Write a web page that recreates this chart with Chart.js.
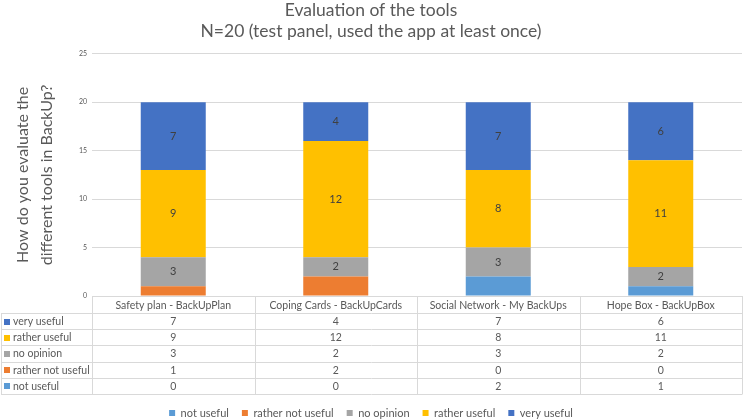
<!DOCTYPE html>
<html>
<head>
<meta charset="utf-8">
<script src="https://cdn.jsdelivr.net/npm/chart.js@4"></script>
<style>
  body { margin: 0; background: #fff; }
</style>
</head>
<body>
<canvas id="myChart" width="745" height="419"></canvas>
<script>
// data
const tools = ['Safety plan - BackUpPlan', 'Coping Cards - BackUpCards', 'Social Network - My BackUps', 'Hope Box - BackUpBox'];
const notUseful = [0, 0, 2, 1];
const ratherNotUseful = [1, 2, 0, 0];
const noOpinion = [3, 2, 3, 2];
const ratherUseful = [9, 12, 8, 11];
const veryUseful = [7, 4, 7, 6];
const yMax = 25;
const yStep = 5;

const grey = '#595959';
const fontName = 'Lato, "Open Sans", sans-serif';

// only these get a value written inside the bar
const labelled = ['no opinion', 'rather useful', 'very useful'];

const barLabels = {
  id: 'barLabels',
  afterDatasetsDraw(chart) {
    const ctx = chart.ctx;
    ctx.save();
    ctx.font = '11px ' + fontName;
    ctx.fillStyle = '#404040';
    ctx.textAlign = 'center';
    ctx.textBaseline = 'middle';
    chart.data.datasets.forEach((ds, i) => {
      if (labelled.indexOf(ds.label) < 0) return;
      chart.getDatasetMeta(i).data.forEach((bar, j) => {
        if (!ds.data[j]) return;
        ctx.fillText(ds.data[j], bar.x, (bar.y + bar.base) / 2);
      });
    });
    ctx.restore();
  }
};

// data table under the plot
const dataTable = {
  id: 'dataTable',
  afterDraw(chart) {
    const ctx = chart.ctx;
    const x = chart.scales.x;
    const top = chart.chartArea.bottom;
    const n = tools.length;
    const colW = (x.right - x.left) / n;
    const headH = 17;
    const rowH = 16.2;
    const rows = chart.data.datasets.slice().reverse();
    const bottom = top + headH + rowH * rows.length;

    ctx.save();
    ctx.strokeStyle = '#d9d9d9';
    ctx.lineWidth = 1;
    ctx.beginPath();
    ctx.moveTo(x.left, top + 0.5);
    ctx.lineTo(x.right, top + 0.5);
    for (let r = 0; r <= rows.length; r++) {
      const yy = Math.round(top + headH + r * rowH) + 0.5;
      ctx.moveTo(1, yy);
      ctx.lineTo(x.right, yy);
    }
    ctx.moveTo(1.5, top + headH);
    ctx.lineTo(1.5, Math.round(bottom) + 0.5);
    for (let c = 0; c <= n; c++) {
      const xx = Math.round(x.left + c * colW) + 0.5;
      ctx.moveTo(xx, top);
      ctx.lineTo(xx, Math.round(bottom) + 0.5);
    }
    ctx.stroke();

    ctx.font = '10.5px ' + fontName;
    ctx.textBaseline = 'middle';
    rows.forEach((ds, r) => {
      const yc = top + headH + r * rowH + rowH / 2 + 0.5;
      ctx.fillStyle = ds.backgroundColor;
      ctx.fillRect(4, Math.round(yc - 3), 6, 6);
      ctx.fillStyle = grey;
      ctx.textAlign = 'left';
      ctx.fillText(ds.label, 13, yc);
      ctx.textAlign = 'center';
      ds.data.forEach((v, c) => {
        ctx.fillText(v, x.left + c * colW + colW / 2, yc);
      });
    });
    ctx.restore();
  }
};

const data = {
  labels: tools,
  datasets: [
    { label: 'not useful', data: notUseful, backgroundColor: '#5B9BD5' },
    { label: 'rather not useful', data: ratherNotUseful, backgroundColor: '#ED7D31' },
    { label: 'no opinion', data: noOpinion, backgroundColor: '#A5A5A5' },
    { label: 'rather useful', data: ratherUseful, backgroundColor: '#FFC000' },
    { label: 'very useful', data: veryUseful, backgroundColor: '#4472C4' }
  ]
};

const config = {
  type: 'bar',
  data: data,
  plugins: [barLabels, dataTable],
  options: {
    responsive: false,
    animation: false,
    devicePixelRatio: 1,
    layout: { padding: { left: 0, right: 3, top: 0, bottom: -9.5 } },
    datasets: {
      bar: { barPercentage: 0.4, categoryPercentage: 1.0 }
    },
    plugins: {
      tooltip: { enabled: false },
      title: {
        display: true,
        text: ['Evaluation of the tools', 'N=20 (test panel, used the app at least once)'],
        color: grey,
        font: { family: fontName, size: 17.5, weight: 'normal', lineHeight: 1.25 },
        padding: { top: -1, bottom: 11 }
      },
      legend: {
        position: 'bottom',
        labels: {
          color: grey,
          boxWidth: 6,
          boxHeight: 6,
          padding: 13,
          font: { family: fontName, size: 11 }
        }
      }
    },
    scales: {
      x: {
        stacked: true,
        grid: { display: false, drawTicks: false },
        border: { display: false },
        ticks: {
          color: grey,
          padding: 3,
          maxRotation: 0,
          autoSkip: false,
          font: { family: fontName, size: 10.5 }
        },
        afterFit(scale) { scale.height = 98.5; }
      },
      y: {
        stacked: true,
        min: 0,
        max: yMax,
        grid: { color: '#d9d9d9', drawTicks: false },
        border: { display: false },
        ticks: {
          stepSize: yStep,
          color: grey,
          padding: 5,
          font: { family: fontName, size: 7 }
        },
        title: {
          display: true,
          text: ['How do you evaluate the', 'different tools in BackUp?'],
          color: grey,
          font: { family: fontName, size: 16, lineHeight: 1.5 },
          padding: { top: 11, bottom: 0 }
        },
        afterFit(scale) { scale.width = 92; }
      }
    }
  }
};

const myChart = new Chart(document.getElementById('myChart'), config);
</script>
</body>
</html>
